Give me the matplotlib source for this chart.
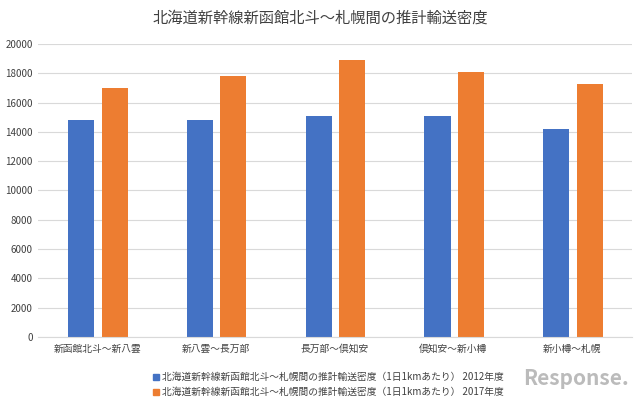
import numpy as np
import matplotlib.pyplot as plt
from matplotlib.patches import Patch

plt.rcParams['font.family'] = 'Noto Sans CJK JP'

categories = ['新函館北斗～新八雲', '新八雲～長万部', '長万部～倶知安', '倶知安～新小樽', '新小樽～札幌']
v2012 = [14800, 14800, 15100, 15100, 14200]
v2017 = [17000, 17800, 18900, 18100, 17300]
series = ['北海道新幹線新函館北斗～札幌間の推計輸送密度（1日1kmあたり） 2012年度',
          '北海道新幹線新函館北斗～札幌間の推計輸送密度（1日1kmあたり） 2017年度']
blue, orange = '#4472C4', '#ED7D31'

fig = plt.figure(figsize=(6.4, 4.01), dpi=100)
ax = fig.add_axes([0.059, 0.16, 0.928, 0.73])
x = np.arange(len(categories))
w = 0.22
ax.bar(x - 0.135, v2012, w, color=blue)
ax.bar(x + 0.147, v2017, w, color=orange)
ax.set_xlim(-0.5, 4.5)
ax.set_ylim(0, 20000)
ax.set_yticks(range(0, 20001, 2000))
ax.set_xticks(x)
ax.set_xticklabels(categories, fontsize=7, color='#404040')
ax.tick_params(axis='y', labelsize=7, labelcolor='#404040', length=0)
ax.tick_params(axis='x', length=0, pad=5)
ax.grid(axis='y', color='#d9d9d9', lw=0.8)
ax.set_axisbelow(True)
for s in ['top', 'right', 'left']:
    ax.spines[s].set_visible(False)
ax.spines['bottom'].set_color('#d9d9d9')

fig.text(0.5, 0.955, '北海道新幹線新函館北斗～札幌間の推計輸送密度', ha='center', va='center',
         fontsize=11, color='#404040')
handles = [Patch(color=blue), Patch(color=orange)]
fig.legend(handles, series, loc='lower left', bbox_to_anchor=(0.225, -0.012), frameon=False,
           fontsize=7, handlelength=0.6, handleheight=0.6, handletextpad=0.3, labelspacing=0.5,
           labelcolor='#404040')
fig.text(0.9, 0.055, 'Response.', ha='center', va='center', fontsize=15, color='#bbbbbb',
         style='italic', fontweight='bold')
fig.savefig('out.png')
